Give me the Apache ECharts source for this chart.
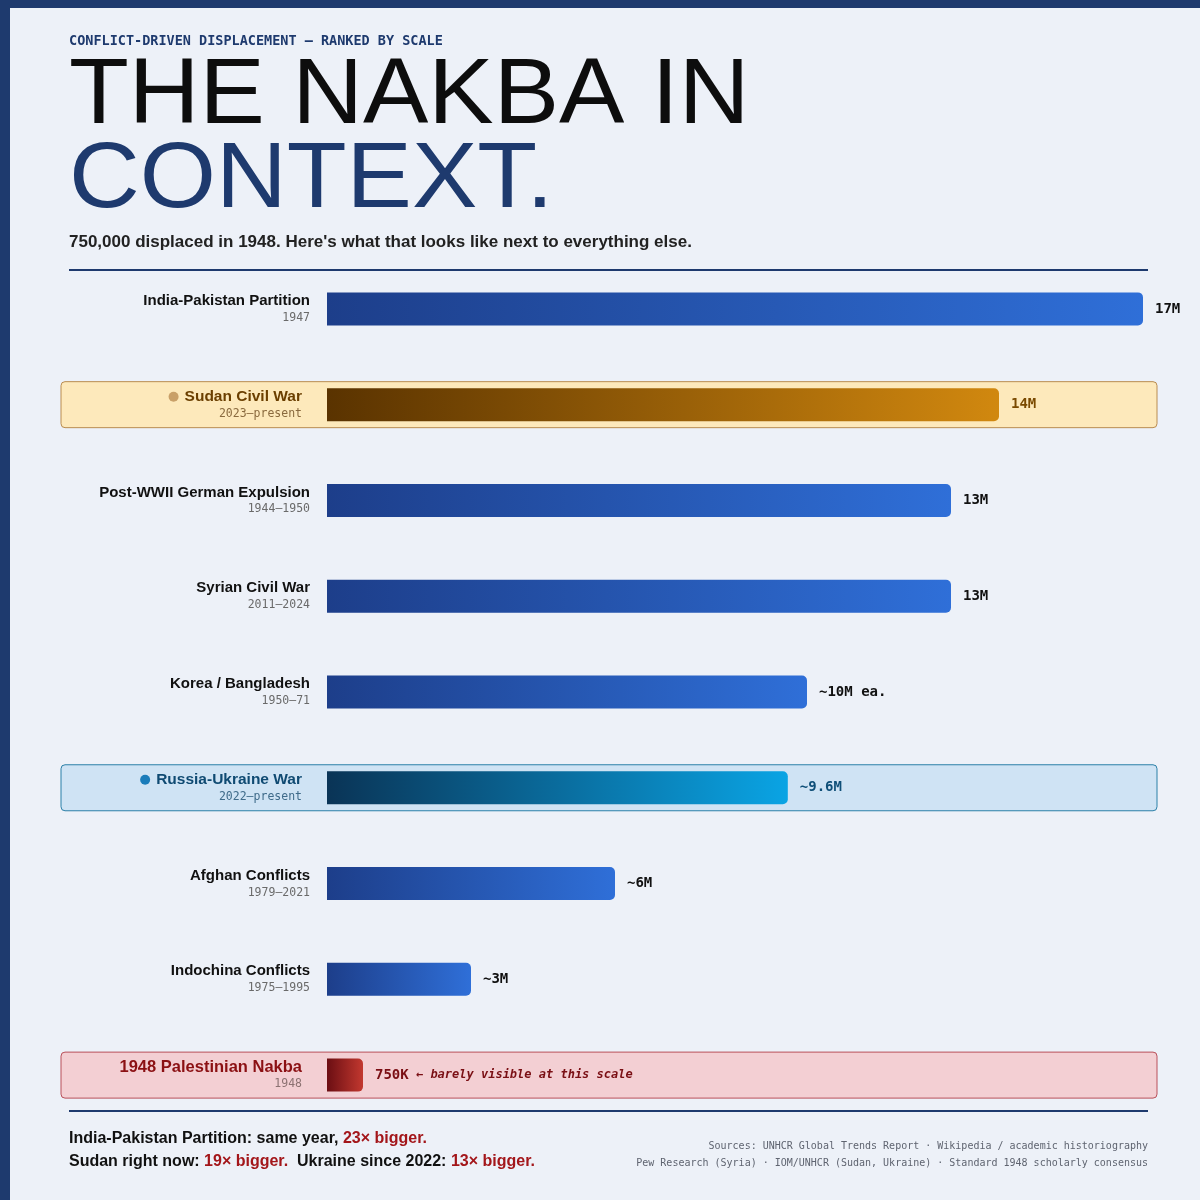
<!DOCTYPE html>
<html>
<head>
<meta charset="utf-8">
<title>The Nakba in context</title>
<script src="https://cdn.jsdelivr.net/npm/echarts@6/dist/echarts.min.js"></script>
<style>
  html, body { margin: 0; padding: 0; background: #edf1f8; }
  #chart { width: 1200px; height: 1200px; }
</style>
</head>
<body>
<div id="chart"></div>
<script>
// data
var categories = ['India-Pakistan Partition', 'Sudan Civil War', 'Post-WWII German Expulsion', 'Syrian Civil War',
  'Korea / Bangladesh', 'Russia-Ukraine War', 'Afghan Conflicts', 'Indochina Conflicts', '1948 Palestinian Nakba']
var periods = ['1947', '2023\u2013present', '1944\u20131950', '2011\u20132024', '1950\u201371', '2022\u2013present',
  '1979\u20132021', '1975\u20131995', '1948']
var displacedMillions = [17, 14, 13, 13, 10, 9.6, 6, 3, 0.75]
var valueLabels = ['17M', '14M', '13M', '13M', '~10M ea.', '~9.6M', '~6M', '~3M', '750K']
var rowKind = ['base', 'sudan', 'base', 'base', 'base', 'ukraine', 'base', 'base', 'nakba']
var nakbaNote = '\u2190 barely visible at this scale'

var NAVY = '#1e3a6e'
var SANS = "'Liberation Sans', Arial, sans-serif"
var MONO = "'DejaVu Sans Mono', 'Liberation Mono', monospace"

// colours per row kind
var kinds = {
  base:    { bar: ['#1d3e8a', '#2f6fd8'], value: '#111111' },
  sudan:   { bar: ['#5a3300', '#d1880f'], value: '#7a4a00', fill: '#fde9bb', stroke: '#b98c50', dot: '#c9a068' },
  ukraine: { bar: ['#0a3456', '#0aa4e4'], value: '#0f4f78', fill: '#cfe3f4', stroke: '#2b80a8', dot: '#1a7cba' },
  nakba:   { bar: ['#6b0e13', '#c2382f'], value: '#7a0f14', fill: '#f3cfd3', stroke: '#b9505a' }
}

function grad (c) {
  return { type: 'linear', x: 0, y: 0, x2: 1, y2: 0, colorStops: [{ offset: 0, color: c[0] }, { offset: 1, color: c[1] }] }
}

// y axis label: name on top, period underneath
function rowLabel (value, index) {
  var k = rowKind[index]
  if (k === 'sudan') return '{dotS|}{gap|}{nameS|' + value + '}\n{yearS|' + periods[index] + '}'
  if (k === 'ukraine') return '{dotU|}{gap|}{nameU|' + value + '}\n{yearU|' + periods[index] + '}'
  if (k === 'nakba') return '{nameN|' + value + '}\n{yearN|' + periods[index] + '}'
  return '{name|' + value + '}\n{year|' + periods[index] + '}'
}

var nameBase = { fontFamily: SANS, fontWeight: 'bold', fontSize: 15, color: '#111', lineHeight: 18, align: 'right' }
var yearBase = { fontFamily: MONO, fontSize: 11.5, color: '#6a6a6a', lineHeight: 16, align: 'right' }
function ext (a, b) { return Object.assign({}, a, b) }

var barData = displacedMillions.map(function (v, i) {
  var k = kinds[rowKind[i]]
  return {
    value: v,
    itemStyle: { color: grad(k.bar), borderRadius: [0, 5, 5, 0] },
    label: { color: k.value }
  }
})

var boxData = []
rowKind.forEach(function (k, i) { if (k !== 'base') boxData.push([0, i]) })

var BOX_LEFT = 61
var BOX_W = 1096
var BOX_H = 46

// big two-line headline, a touch wider than the plain font
function headline (text, y, color) {
  return {
    type: 'text', silent: true, x: 69, y: y, scaleX: 1.065,
    style: { text: text, x: 0, y: 0, fill: color, font: '92px ' + SANS, verticalAlign: 'middle' }
  }
}

var chart = echarts.init(document.getElementById('chart'))
chart.setOption({
  backgroundColor: '#edf1f8',
  animation: false,
  grid: { left: 327, top: 261, width: 840, bottom: 77 },
  xAxis: { type: 'value', min: 0, max: 17.5, show: false },
  yAxis: {
    type: 'category',
    data: categories,
    inverse: true,
    z: 10,
    axisLine: { show: false },
    axisTick: { show: false },
    splitLine: { show: false },
    axisLabel: {
      margin: 17,
      formatter: rowLabel,
      rich: {
        name: nameBase,
        year: yearBase,
        gap: { width: 6 },
        dotS: { width: 10, height: 10, borderRadius: 5, backgroundColor: kinds.sudan.dot },
        nameS: ext(nameBase, { fontSize: 15.5, color: '#6b3f00', padding: [0, 8, 0, 0] }),
        yearS: ext(yearBase, { color: '#8a6a3e', padding: [0, 8, 0, 0] }),
        dotU: { width: 10, height: 10, borderRadius: 5, backgroundColor: kinds.ukraine.dot },
        nameU: ext(nameBase, { fontSize: 15.5, color: '#0f4a72', padding: [0, 8, 0, 0] }),
        yearU: ext(yearBase, { color: '#3f6b8a', padding: [0, 8, 0, 0] }),
        nameN: ext(nameBase, { fontSize: 16.5, color: '#8b1013', lineHeight: 18, padding: [0, 8, 0, 0] }),
        yearN: ext(yearBase, { color: '#8c7272', padding: [0, 8, 0, 0] })
      }
    }
  },
  series: [
    {
      // highlight boxes behind the three called-out rows
      type: 'custom',
      silent: true,
      clip: false,
      z: 1,
      data: boxData,
      renderItem: function (params, api) {
        var k = kinds[rowKind[api.value(1)]]
        var y = api.coord([0, api.value(1)])[1]
        return {
          type: 'rect',
          shape: { x: BOX_LEFT, y: y - BOX_H / 2, width: BOX_W, height: BOX_H, r: 4 },
          style: { fill: k.fill, stroke: k.stroke, lineWidth: 1 }
        }
      }
    },
    {
      type: 'bar',
      z: 2,
      barWidth: 33,
      data: barData,
      label: {
        show: true,
        position: 'right',
        distance: 12,
        fontFamily: MONO,
        fontWeight: 'bold',
        fontSize: 14,
        formatter: function (p) {
          if (rowKind[p.dataIndex] === 'nakba') return '{nv|' + valueLabels[p.dataIndex] + '}{note| ' + nakbaNote + '}'
          return valueLabels[p.dataIndex]
        },
        rich: {
          nv: { fontFamily: MONO, fontWeight: 'bold', fontSize: 14, color: kinds.nakba.value },
          note: { fontFamily: MONO, fontWeight: 'bold', fontStyle: 'italic', fontSize: 12, color: kinds.nakba.value }
        }
      }
    }
  ],
  graphic: [
    { type: 'rect', shape: { x: 0, y: 0, width: 1200, height: 8 }, style: { fill: NAVY }, silent: true },
    { type: 'rect', shape: { x: 0, y: 0, width: 10, height: 1200 }, style: { fill: NAVY }, silent: true },
    {
      type: 'text', silent: true,
      style: { text: 'CONFLICT-DRIVEN DISPLACEMENT \u2014 RANKED BY SCALE', x: 69, y: 41, fill: NAVY,
        font: 'bold 13.5px ' + MONO, verticalAlign: 'middle' }
    },
    headline('THE NAKBA IN', 98, '#0d0d0d'),
    headline('CONTEXT.', 182, NAVY),
    {
      type: 'text', silent: true,
      style: { text: "750,000 displaced in 1948. Here's what that looks like next to everything else.", x: 69, y: 242,
        fill: '#222', font: 'bold 17px ' + SANS, verticalAlign: 'middle' }
    },
    { type: 'line', silent: true, shape: { x1: 69, y1: 270, x2: 1148, y2: 270 }, style: { stroke: NAVY, lineWidth: 2 } },
    { type: 'line', silent: true, shape: { x1: 69, y1: 1111, x2: 1148, y2: 1111 }, style: { stroke: NAVY, lineWidth: 2 } },
    {
      type: 'text', silent: true,
      style: {
        text: '{b|India-Pakistan Partition: same year, }{r|23\u00d7 bigger.}\n{b|Sudan right now: }{r|19\u00d7 bigger.}{b|  Ukraine since 2022: }{r|13\u00d7 bigger.}',
        x: 69, y: 1150, verticalAlign: 'middle',
        rich: {
          b: { font: 'bold 16px ' + SANS, fill: '#111', lineHeight: 23 },
          r: { font: 'bold 16px ' + SANS, fill: '#a3161a', lineHeight: 23 }
        }
      }
    },
    {
      type: 'text', silent: true,
      style: {
        text: 'Sources: UNHCR Global Trends Report \u00b7 Wikipedia / academic historiography\nPew Research (Syria) \u00b7 IOM/UNHCR (Sudan, Ukraine) \u00b7 Standard 1948 scholarly consensus',
        x: 1148, y: 1155, fill: '#5f6470', font: '10px ' + MONO, lineHeight: 17,
        align: 'right', verticalAlign: 'middle'
      }
    }
  ]
})
</script>
</body>
</html>
